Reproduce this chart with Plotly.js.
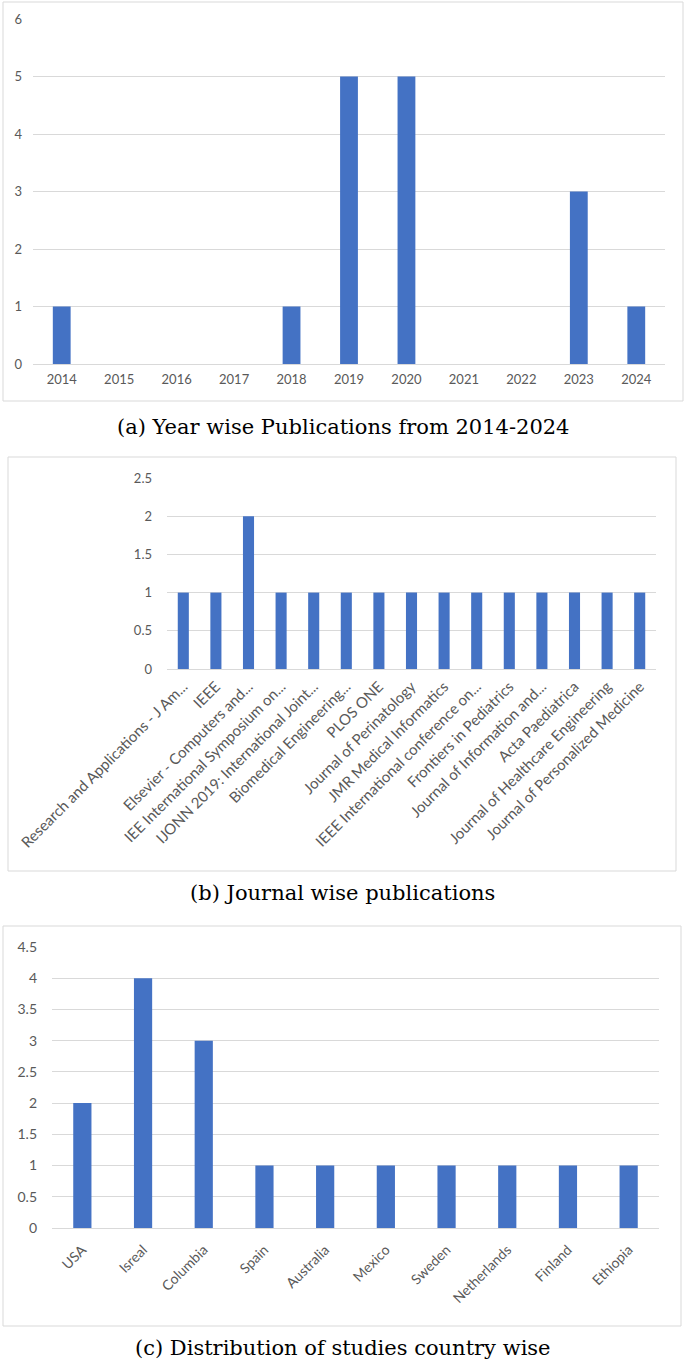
<!DOCTYPE html>
<html>
<head>
<meta charset="utf-8">
<script src="https://cdn.plot.ly/plotly-3.0.1.min.js"></script>
<style>
  html, body { margin: 0; padding: 0; background: #ffffff; }
  #chart { width: 685px; height: 1364px; }
</style>
</head>
<body>
<div id="chart"></div>
<script>
// ---- Data ----
const years = ['2014','2015','2016','2017','2018','2019','2020','2021','2022','2023','2024'];
const pubsByYear = [1, 0, 0, 0, 1, 5, 5, 0, 0, 3, 1];

const journals = [
  'Research and Applications - J Am...',
  'IEEE',
  'Elsevier - Computers and...',
  'IEE International Symposium on...',
  'IJONN 2019: International Joint...',
  'Biomedical Engineering...',
  'PLOS ONE',
  'Journal of Perinatology',
  'JMR Medical Informatics',
  'IEEE International conference on...',
  'Frontiers in Pediatrics',
  'Journal of Information and...',
  'Acta Paediatrica',
  'Journal of Healthcare Engineering',
  'Journal of Personalized Medicine'
];
const journalCounts = [1, 1, 2, 1, 1, 1, 1, 1, 1, 1, 1, 1, 1, 1, 1];

const countries = ['USA','Isreal','Columbia','Spain','Australia','Mexico','Sweden','Netherlands','Finland','Ethiopia'];
const countryCounts = [2, 4, 3, 1, 1, 1, 1, 1, 1, 1];

const captions = [
  '(a) Year wise Publications from 2014-2024',
  '(b) Journal wise publications',
  '(c) Distribution of studies country wise'
];

// ---- Layout helpers ----
const W = 685, H = 1364;
const px = v => v / W;
const py = v => 1 - v / H;

const BAR = '#4472C4';
const GRID = '#d9d9d9';
const TICK = '#595959';
const FAM = 'Lato, "Open Sans", sans-serif';
const tf = s => ({ family: FAM, size: s, color: TICK });

const traces = [
  { type: 'bar', x: years, y: pubsByYear, xaxis: 'x', yaxis: 'y', marker: { color: BAR }, width: 0.31 },
  { type: 'bar', x: journals, y: journalCounts, xaxis: 'x2', yaxis: 'y2', marker: { color: BAR }, width: 0.34 },
  { type: 'bar', x: countries, y: countryCounts, xaxis: 'x3', yaxis: 'y3', marker: { color: BAR }, width: 0.30 }
];

function xAx(domain, anchor, angle, standoff, size) {
  return {
    domain: domain, anchor: anchor, type: 'category',
    showgrid: false, showline: false, zeroline: false, ticks: '',
    tickfont: tf(size), tickangle: angle, ticklabelstandoff: standoff,
    automargin: false, fixedrange: true
  };
}
function yAx(domain, anchor, range, dtick, standoff, size) {
  return {
    domain: domain, anchor: anchor, range: range, dtick: dtick, tick0: 0,
    showgrid: true, gridcolor: GRID, gridwidth: 1,
    zeroline: true, zerolinecolor: GRID, zerolinewidth: 1,
    showline: false, ticks: '', tickfont: tf(size),
    ticklabelstandoff: standoff, automargin: false, fixedrange: true
  };
}

const boxLine = { color: '#d9d9d9', width: 1 };
const capFont = { family: '"DejaVu Serif", "Liberation Serif", serif', size: 21, color: '#000000' };
const layout = {
  width: W, height: H,
  margin: { l: 0, r: 0, t: 0, b: 0 },
  paper_bgcolor: '#ffffff', plot_bgcolor: 'rgba(0,0,0,0)',
  showlegend: false, hovermode: false,
  xaxis:  xAx([px(33), px(665)], 'y', 0, 6, 13),
  yaxis:  yAx([py(364), py(19)], 'x', [0, 6], 1, 10, 13),
  xaxis2: xAx([px(167), px(656)], 'y2', -45, 5, 15),
  yaxis2: yAx([py(669), py(478)], 'x2', [0, 2.5], 0.5, 14, 13),
  xaxis3: xAx([px(52), px(659)], 'y3', -45, 10, 14),
  yaxis3: yAx([py(1228), py(947)], 'x3', [0, 4.5], 0.5, 14, 14),
  shapes: [
    { type: 'rect', xref: 'paper', yref: 'paper', x0: px(3), x1: px(683), y0: py(401), y1: py(2), line: boxLine, layer: 'below' },
    { type: 'rect', xref: 'paper', yref: 'paper', x0: px(8), x1: px(676), y0: py(871), y1: py(457), line: boxLine, layer: 'below' },
    { type: 'rect', xref: 'paper', yref: 'paper', x0: px(3), x1: px(681), y0: py(1326), y1: py(926), line: boxLine, layer: 'below' }
  ],
  annotations: [
    { text: captions[0], xref: 'paper', yref: 'paper', x: 0.5, y: py(427), xanchor: 'center', yanchor: 'middle', showarrow: false, font: capFont },
    { text: captions[1], xref: 'paper', yref: 'paper', x: 0.5, y: py(893), xanchor: 'center', yanchor: 'middle', showarrow: false, font: capFont },
    { text: captions[2], xref: 'paper', yref: 'paper', x: 0.5, y: py(1348), xanchor: 'center', yanchor: 'middle', showarrow: false, font: capFont }
  ]
};

Plotly.newPlot('chart', traces, layout, { displayModeBar: false, staticPlot: true });
</script>
</body>
</html>
